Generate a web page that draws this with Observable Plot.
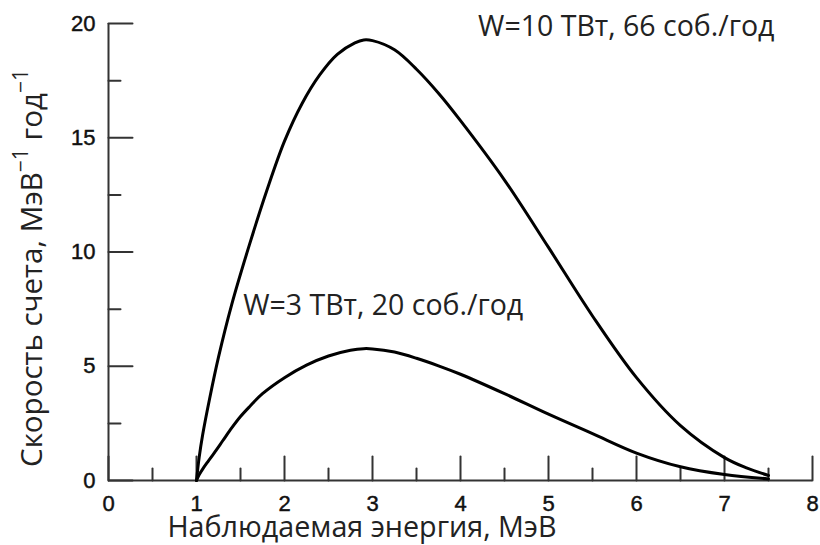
<!DOCTYPE html>
<html><head><meta charset="utf-8">
<script src="https://cdn.jsdelivr.net/npm/d3@7"></script>
<script src="https://cdn.jsdelivr.net/npm/@observablehq/plot@0.6"></script>
<style>body{margin:0;background:#fff}</style>
</head><body><div id="chart"></div>
<script>
// W = 10 TW curve
const energy10 = [1.0, 1.03, 1.07, 1.15, 1.25, 1.4, 1.6, 1.8, 2.0, 2.2, 2.4, 2.6, 2.8, 2.9, 3.0, 3.25, 3.5, 3.75, 4.0, 4.5, 5.0, 5.5, 6.0, 6.5, 7.0, 7.25, 7.5];
const rate10   = [0, 1.0, 2.0, 3.6, 5.4, 7.7, 10.3, 12.7, 14.85, 16.5, 17.75, 18.65, 19.15, 19.28, 19.25, 18.85, 18.0, 16.95, 15.75, 13.15, 10.2, 7.2, 4.5, 2.4, 1.0, 0.55, 0.22];
// W = 3 TW curve
const energy3 = [1.0, 1.03, 1.07, 1.13, 1.2, 1.3, 1.4, 1.5, 1.6, 1.75, 2.0, 2.25, 2.5, 2.75, 2.9, 3.0, 3.25, 3.5, 3.75, 4.0, 4.5, 5.0, 5.5, 6.0, 6.5, 7.0, 7.5];
const rate3   = [0, 0.25, 0.5, 0.83, 1.2, 1.75, 2.3, 2.8, 3.22, 3.8, 4.5, 5.05, 5.45, 5.7, 5.77, 5.76, 5.62, 5.35, 5.02, 4.65, 3.8, 2.9, 2.05, 1.2, 0.6, 0.26, 0.07];

const xMajorTicks = [0, 1, 2, 3, 4, 5, 6, 7, 8];
const xMinorTicks = [0.5, 1.5, 2.5, 3.5, 4.5, 5.5, 6.5, 7.5];
const yMajorTicks = [0, 5, 10, 15, 20];
const yMinorTicks = [2.5, 7.5, 12.5, 17.5];

const labelTexts = ["W=10 ТВт, 66 соб./год", "W=3 ТВт, 20 соб./год"];
const labelX = [4.2, 1.53];
const labelY = [19.87, 7.66];

const xTitle = "Наблюдаемая энергия, МэВ";
const yTitleParts = ["Скорость счета, МэВ", "−1", " год", "−1"];

const series10 = energy10.map((e, i) => ({e, r: rate10[i]}));
const series3 = energy3.map((e, i) => ({e, r: rate3[i]}));
const labels = labelTexts.map((t, i) => ({t, x: labelX[i], y: labelY[i]}));

const tickShape = {draw(ctx, l) { ctx.moveTo(0, 0); ctx.lineTo(0, -l); }};
const axisColor = "#333";

const chart = Plot.plot({
  width: 820,
  height: 545,
  marginLeft: 108,
  marginRight: 8,
  marginTop: 23,
  marginBottom: 65,
  style: {fontFamily: "Liberation Sans, Arial, sans-serif", color: "#222", background: "#fff"},
  x: {domain: [0, 8]},
  y: {domain: [0, 20]},
  marks: [
    Plot.axisX(xMajorTicks, {tickSize: 0, tickPadding: 15, fontSize: 22, label: null}),
    Plot.axisY(yMajorTicks, {tickSize: 0, tickPadding: 13, fontSize: 22, label: null}),
    Plot.ruleY([0], {stroke: axisColor, strokeWidth: 2}),
    Plot.ruleX([0], {stroke: axisColor, strokeWidth: 2}),
    Plot.vector(xMajorTicks, {x: d => d, y: 0, length: 24, rotate: 0, anchor: "start", shape: tickShape, stroke: axisColor, strokeWidth: 2}),
    Plot.vector(xMinorTicks, {x: d => d, y: 0, length: 12, rotate: 0, anchor: "start", shape: tickShape, stroke: axisColor, strokeWidth: 2}),
    Plot.vector(yMajorTicks, {x: 0, y: d => d, length: 24, rotate: 90, anchor: "start", shape: tickShape, stroke: axisColor, strokeWidth: 2}),
    Plot.vector(yMinorTicks, {x: 0, y: d => d, length: 12, rotate: 90, anchor: "start", shape: tickShape, stroke: axisColor, strokeWidth: 2}),
    Plot.line(series10, {x: "e", y: "r", curve: "catmull-rom", stroke: "#000", strokeWidth: 3}),
    Plot.line(series3, {x: "e", y: "r", curve: "catmull-rom", stroke: "#000", strokeWidth: 3}),
    Plot.text(labels, {x: "x", y: "y", text: "t", textAnchor: "start", fontSize: 28.5, fontFamily: "Open Sans", fill: "#222"})
  ]
});

const svg = d3.select(chart);
svg.selectAll('g[aria-label$="tick label"]')
  .attr("font-size", 22).style("font-size", "22px");
svg.selectAll('g[aria-label$="tick label"] text')
  .attr("fill", "#111").attr("stroke", "#111").attr("stroke-width", 0.45);

svg.append("text")
  .attr("x", 362).attr("y", 537)
  .attr("text-anchor", "middle")
  .attr("font-family", "Open Sans").attr("font-size", 28.7).attr("fill", "#222")
  .text(xTitle);

const yt = svg.append("text")
  .attr("transform", "translate(42,268) rotate(-90)")
  .attr("text-anchor", "middle")
  .attr("font-family", "Open Sans").attr("font-size", 29.5).attr("fill", "#222");
yt.append("tspan").text(yTitleParts[0]);
yt.append("tspan").attr("dy", -14).attr("font-size", 21).text(yTitleParts[1]);
yt.append("tspan").attr("dy", 14).text(yTitleParts[2]);
yt.append("tspan").attr("dy", -14).attr("font-size", 21).text(yTitleParts[3]);

document.getElementById("chart").append(chart);
</script>
</body></html>
